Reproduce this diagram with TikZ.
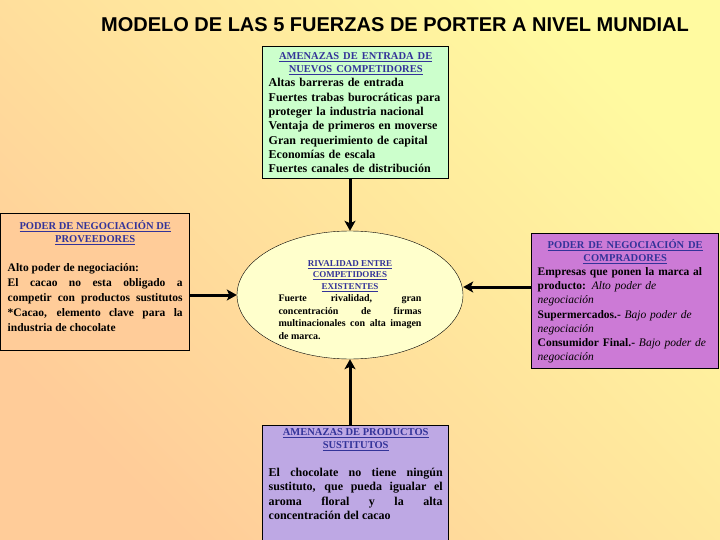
\documentclass[tikz,border=0pt]{standalone}
\usepackage{fontspec}
\setmainfont{Liberation Serif}
\newfontfamily\titlefont{Liberation Sans}
\usetikzlibrary{arrows.meta,shapes.geometric,calc}
\definecolor{bgpeach}{RGB}{255,204,153}
\definecolor{bgmid}{RGB}{255,214,152}
\definecolor{bgyellow}{RGB}{255,250,160}
\definecolor{entrygreen}{RGB}{204,255,204}
\definecolor{provpeach}{RGB}{255,204,153}
\definecolor{rivalcream}{RGB}{255,255,204}
\definecolor{compviolet}{RGB}{204,122,214}
\definecolor{sustlilac}{RGB}{190,168,228}
\definecolor{hdrblue}{RGB}{51,51,153}
\newcommand{\hdr}[1]{\textcolor{hdrblue}{\underline{#1}}}
\newcommand{\soft}[1]{{\mdseries\itshape #1}}
\tikzset{
  forcebox/.style={draw=black, line width=1.4pt, inner xsep=6pt, inner ysep=3pt,
                   anchor=north west},
  rivalell/.style={ellipse, draw=black, thin, fill=rivalcream, inner sep=0pt,
                   minimum width=226pt, minimum height=128pt},
  forcearr/.style={-{Stealth[length=10pt,width=11pt,inset=2.5pt]}, line width=3pt, black}
}

\begin{document}
\begin{tikzpicture}[x=1pt,y=-1pt]
  \clip (0,0) rectangle (720,540);
  \shade[top color=bgyellow, middle color=bgmid, bottom color=bgpeach, shading angle=-45]
    (0,0) rectangle (720,540);

  \node[font=\titlefont\bfseries\fontsize{20}{22}\selectfont] (title) at (395,25)
    {MODELO DE LAS 5 FUERZAS DE PORTER A NIVEL MUNDIAL};

  \node[forcebox, fill=entrygreen, text width=174pt, minimum height=132pt, align=left,
        font=\bfseries\fontsize{12}{14.3}\selectfont] (entry) at (262,46)
    {{\centering\fontsize{10.5}{13}\selectfont\hdr{AMENAZAS DE ENTRADA DE}\par
      \hdr{NUEVOS COMPETIDORES}\par}
     Altas barreras de entrada\\
     Fuertes trabas burocráticas para\\
     proteger la industria nacional\\
     Ventaja de primeros en moverse\\
     Gran requerimiento de capital\\
     Economías de escala\\
     Fuertes canales de distribución};

  \node[forcebox, fill=provpeach, inner xsep=7pt, text width=175pt, minimum height=137pt,
        align=justify, font=\bfseries\fontsize{11.5}{15}\selectfont] (prov) at (0,213)
    {{\centering\fontsize{10.5}{13}\selectfont\hdr{PODER DE NEGOCIACIÓN DE}\par
      \hdr{PROVEEDORES}\par}
     \vspace{14pt}
     Alto poder de negociación:\\
     *El cacao no esta obligado a\linebreak
     competir con productos sustitutos\linebreak
     *Cacao, elemento clave para la\linebreak
     industria de chocolate\rule[-12pt]{0pt}{1pt}};

  \node[rivalell, text width=143pt, align=justify,
        font=\bfseries\fontsize{10}{12.5}\selectfont] (rival) at (350,295)
    {{\centering\fontsize{9}{11.5}\selectfont\rule{0pt}{16pt}\hdr{RIVALIDAD ENTRE}\par
      \hdr{COMPETIDORES}\par\hdr{EXISTENTES}\par}
     Fuerte rivalidad, gran\linebreak
     concentración de firmas\linebreak
     multinacionales con alta imagen\linebreak
     de marca.};

  \node[forcebox, fill=compviolet, text width=175pt, minimum height=135pt, align=left,
        font=\bfseries\fontsize{11.5}{14.2}\selectfont] (comp) at (531,233)
    {{\centering\fontsize{10.5}{13}\selectfont\hdr{PODER DE NEGOCIACIÓN DE}\par
      \hdr{COMPRADORES}\par}
     Empresas que ponen la marca al\\
     producto: \soft{Alto poder de}\\
     \soft{negociación}\\
     Supermercados.- \soft{Bajo poder de}\\
     \soft{negociación}\\
     Consumidor Final.- \soft{Bajo poder de}\\
     \soft{negociación}};

  \node[forcebox, fill=sustlilac, text width=174pt, align=justify,
        font=\bfseries\fontsize{12}{14.5}\selectfont] (sust) at (262,425)
    {{\centering\fontsize{10.5}{13}\selectfont\hdr{AMENAZAS DE PRODUCTOS}\par
      \hdr{SUSTITUTOS}\par}
     \vspace{13pt}
     El chocolate no tiene ningún\linebreak
     sustituto, que pueda igualar el\linebreak
     aroma floral y la alta\linebreak
     concentración del cacao\par
     \rule{0pt}{30pt}};

  \coordinate (rivalR) at ([yshift=8pt]rival.east);
  \draw[forcearr] (entry.south -| rival.north) -- (rival.north);
  \draw[forcearr] (prov.east |- rival.west) -- (rival.west);
  \draw[forcearr] (comp.west |- rivalR) -- (rivalR);
  \draw[forcearr] (sust.north -| rival.south) -- (rival.south);
\end{tikzpicture}
\end{document}
